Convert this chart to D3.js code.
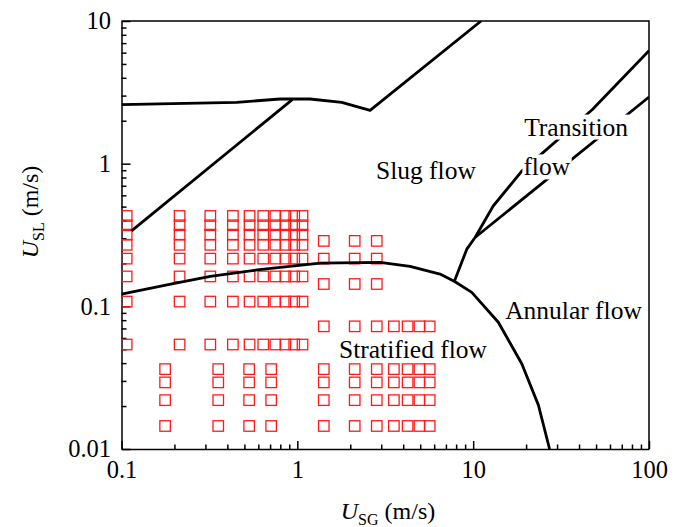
<!DOCTYPE html>
<html>
<head>
<meta charset="utf-8">
<title>Flow pattern map</title>
<script src="https://d3js.org/d3.v7.min.js"></script>
<style>
    body { margin: 0; background: #fff; }
    svg { display: block; font-family: "Liberation Serif", "Times New Roman", serif; }
    .axis path, .axis line { stroke: #000; stroke-width: 1.5; }
    .boundary { fill: none; stroke: #000; stroke-width: 2.8; stroke-linejoin: round; }
    .pt { fill: none; stroke: #ff1a1a; stroke-width: 1.3; }
    .region { font-size: 25.5px; fill: #000; }
</style>
</head>
<body>
<div id="chart"></div>
<script>
    const width = 681, height = 527;
    const margin = { top: 21, right: 32, bottom: 78, left: 121.5 };

    // tick labels
    const xTicks = [0.1, 1, 10, 100];
    const yTicks = [0.01, 0.1, 1, 10];

    // experimental points (U_SG columns x U_SL rows)
    const groups = [
        { xs: [0.107, 0.214, 0.32, 0.43, 0.535, 0.64, 0.75, 0.855, 0.96, 1.07],
          ys: [0.054, 0.108, 0.162, 0.216, 0.27, 0.318, 0.37, 0.43] },
        { xs: [1.414, 2.12, 2.83],
          ys: [0.0724, 0.1434, 0.216, 0.2875] },
        { xs: [3.54, 4.24, 4.95, 5.66],
          ys: [0.0724] },
        { xs: [0.177, 0.355, 0.532, 0.71, 1.414, 2.12, 2.83, 3.54, 4.24, 4.95, 5.66],
          ys: [0.0145, 0.022, 0.0293, 0.0363] }
    ];

    // boundaries
    const slugTopX = [0.1, 0.452, 0.797, 1.181, 1.789, 2.592, 11.1];
    const slugTopY = [2.59, 2.69, 2.84, 2.84, 2.69, 2.36, 10];

    const slugDiagX = [0.114, 0.94];
    const slugDiagY = [0.338, 2.82];

    const stratX = [0.1, 0.2, 0.32, 0.59, 1.346, 2.954, 4.375, 6.48, 7.89, 9.82, 13.9, 18.9, 23.5, 27.2];
    const stratY = [0.122, 0.145, 0.162, 0.18, 0.201, 0.203, 0.1905, 0.1683, 0.1488, 0.1254, 0.0774, 0.0396, 0.0203, 0.01];

    const branchX = [7.78, 9.2, 10.25, 13.0, 18.9, 47.5, 100];
    const branchY = [0.1474, 0.2517, 0.3038, 0.505, 0.886, 2.39, 6.2];

    const lowerDiagX = [10.25, 100];
    const lowerDiagY = [0.3038, 2.93];

    // region labels, left edge and baseline in data units
    const labels = [
        { text: "Slug flow", x: 2.80, y: 0.776, mask: false },
        { text: "Transition", x: 19.5, y: 1.574, mask: true },
        { text: "flow", x: 19.3, y: 0.827, mask: true },
        { text: "Annular flow", x: 15.2, y: 0.0817, mask: false },
        { text: "Stratified flow", x: 1.726, y: 0.0436, mask: false }
    ];

    const x = d3.scaleLog().domain([0.1, 100]).range([margin.left, width - margin.right]);
    const y = d3.scaleLog().domain([0.01, 10]).range([height - margin.bottom, margin.top]);

    const svg = d3.select("#chart").append("svg")
        .attr("width", width)
        .attr("height", height);

    svg.append("defs").append("clipPath").attr("id", "plot")
        .append("rect")
        .attr("x", x(0.1)).attr("y", y(10))
        .attr("width", x(100) - x(0.1)).attr("height", y(0.01) - y(10));

    const minorX = [], minorY = [];
    for (let d = 0.1; d < 100; d *= 10) {
        for (let k = 2; k <= 9; k++) minorX.push(d * k);
    }
    for (let d = 0.01; d < 10; d *= 10) {
        for (let k = 2; k <= 9; k++) minorY.push(d * k);
    }

    // minor ticks (inward)
    svg.append("g").attr("class", "axis")
        .attr("transform", "translate(0," + y(0.01) + ")")
        .call(d3.axisBottom(x).tickValues(minorX).tickSize(-4.5).tickFormat(""))
        .select(".domain").remove();
    svg.append("g").attr("class", "axis")
        .attr("transform", "translate(" + x(0.1) + ",0)")
        .call(d3.axisLeft(y).tickValues(minorY).tickSize(-5).tickFormat(""))
        .select(".domain").remove();

    // major ticks with labels
    const xAxis = svg.append("g").attr("class", "axis")
        .attr("transform", "translate(0," + y(0.01) + ")")
        .call(d3.axisBottom(x).tickValues(xTicks).tickSize(-8).tickSizeOuter(0).tickPadding(12).tickFormat(d => String(d)));
    const yAxis = svg.append("g").attr("class", "axis")
        .attr("transform", "translate(" + x(0.1) + ",0)")
        .call(d3.axisLeft(y).tickValues(yTicks).tickSize(-9).tickSizeOuter(0).tickPadding(10.5).tickFormat(d => String(d)));
    [xAxis, yAxis].forEach(a => a.attr("font-family", null).attr("font-size", null)
        .selectAll("text")
        .style("font-family", "'Liberation Serif', serif")
        .style("font-size", "24.5px")
        .style("fill", "#000"));

    // top and right frame
    svg.append("path")
        .attr("d", "M" + x(0.1) + "," + y(10) + "H" + x(100) + "V" + y(0.01))
        .attr("fill", "none").attr("stroke", "#000").attr("stroke-width", 1.5);

    // points
    const pts = [];
    groups.forEach(g => d3.cross(g.xs, g.ys).forEach(p => pts.push(p)));
    const s = 10.5;
    svg.append("g").attr("clip-path", "url(#plot)")
        .selectAll("rect").data(pts).enter().append("rect")
        .attr("class", "pt")
        .attr("x", d => x(d[0]) - s / 2)
        .attr("y", d => y(d[1]) - s / 2)
        .attr("width", s).attr("height", s);

    // boundary lines
    const line = d3.line().x(d => x(d[0])).y(d => y(d[1]));
    const lines = [
        d3.zip(slugTopX, slugTopY),
        d3.zip(slugDiagX, slugDiagY),
        d3.zip(stratX, stratY),
        d3.zip(branchX, branchY),
        d3.zip(lowerDiagX, lowerDiagY)
    ];
    svg.append("g").attr("clip-path", "url(#plot)")
        .selectAll("path").data(lines).enter().append("path")
        .attr("class", "boundary")
        .attr("d", line);

    // region labels
    const lg = svg.append("g");
    labels.forEach(l => {
        const t = lg.append("text").attr("class", "region")
            .attr("x", x(l.x)).attr("y", y(l.y)).text(l.text);
        if (l.mask) {
            const b = t.node().getBBox();
            lg.insert("rect", "text")
                .attr("x", b.x - 1).attr("y", b.y + 2)
                .attr("width", b.width + 2).attr("height", b.height - 4)
                .attr("fill", "#fff");
        }
    });

    // axis titles
    const xt = svg.append("text")
        .attr("x", 388).attr("y", 519)
        .attr("text-anchor", "middle")
        .style("font-size", "24px");
    xt.append("tspan").style("font-style", "italic").text("U");
    xt.append("tspan").attr("dy", 6).style("font-size", "16px").text("SG");
    xt.append("tspan").attr("dy", -6).text(" (m/s)");

    const yt = svg.append("text")
        .attr("transform", "translate(38,212) rotate(-90)")
        .attr("text-anchor", "middle")
        .style("font-size", "24px");
    yt.append("tspan").style("font-style", "italic").text("U");
    yt.append("tspan").attr("dy", 6).style("font-size", "16px").text("SL");
    yt.append("tspan").attr("dy", -6).text(" (m/s)");
</script>
</body>
</html>
